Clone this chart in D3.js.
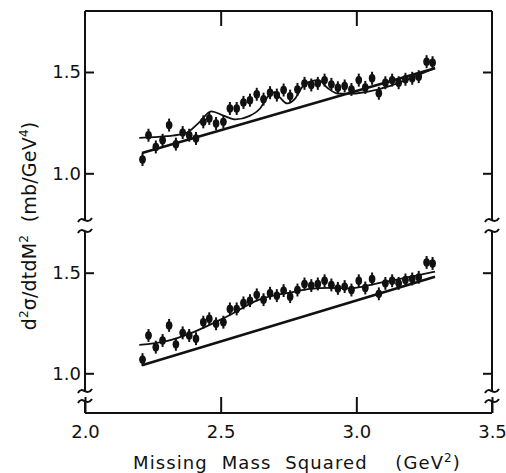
<!DOCTYPE html>
<html>
<meta charset="utf-8">
<style>
  body { margin: 0; background: #fff; }
  text { font-family: "DejaVu Sans", sans-serif; fill: #111; }
</style>
<body>
<script src="https://cdn.jsdelivr.net/npm/d3@7/dist/d3.min.js"></script>
<script>

// missing mass squared of each bin (GeV^2)
var mm2 = [2.212, 2.234, 2.261, 2.286, 2.310, 2.335, 2.360, 2.384, 2.409, 2.436,
           2.458, 2.483, 2.510, 2.534, 2.559, 2.584, 2.608, 2.633, 2.658, 2.682,
           2.707, 2.732, 2.756, 2.783, 2.809, 2.834, 2.858, 2.883, 2.908, 2.932,
           2.957, 2.982, 3.009, 3.033, 3.058, 3.083, 3.107, 3.132, 3.156, 3.181,
           3.206, 3.230, 3.259, 3.281];
// d2sigma/dt dM2 (mb/GeV^4)
var xsec = [1.068, 1.188, 1.130, 1.163, 1.238, 1.144, 1.201, 1.188, 1.172, 1.254,
            1.271, 1.246, 1.254, 1.320, 1.320, 1.350, 1.361, 1.390, 1.366, 1.398,
            1.386, 1.411, 1.381, 1.414, 1.444, 1.436, 1.444, 1.460, 1.439, 1.422,
            1.431, 1.414, 1.460, 1.424, 1.469, 1.395, 1.447, 1.460, 1.447, 1.464,
            1.469, 1.477, 1.551, 1.546];
var xsecErr = 0.032;
var binHalf = 0.011;

// upper panel: background + three resonances
var fitTopX = [2.20, 2.30, 2.37, 2.42, 2.465, 2.51, 2.555, 2.605, 2.645, 2.675, 2.70, 2.72, 2.745, 2.775, 2.80, 2.835, 2.86, 2.895, 2.93, 2.96, 3.29];
var fitTopY = [1.175, 1.183, 1.197, 1.25, 1.306, 1.285, 1.266, 1.282, 1.32, 1.38, 1.40, 1.372, 1.345, 1.37, 1.425, 1.455, 1.46, 1.42, 1.394, 1.392, 1.52];
var bgTopX = [2.21, 3.29];
var bgTopY = [1.10, 1.518];

// lower panel: smooth fit + background
var fitBotX = [2.20, 2.30, 2.40, 2.52, 2.64, 2.77, 2.83, 2.90, 2.975, 3.07, 3.29];
var fitBotY = [1.141, 1.16, 1.205, 1.28, 1.365, 1.405, 1.42, 1.425, 1.422, 1.445, 1.505];
var bgBotX = [2.21, 3.29];
var bgBotY = [1.04, 1.48];

var width = 506, height = 473;
var plotL = 85, plotR = 492, plotT = 11, plotB = 413;

var svg = d3.select("body").append("svg")
  .attr("width", width)
  .attr("height", height);

var x = d3.scaleLinear().domain([2.0, 3.5]).range([plotL, plotR]);
var yTop = d3.scaleLinear().domain([1.0, 1.5]).range([173.3, 72]);
var yBot = d3.scaleLinear().domain([1.0, 1.5]).range([373.3, 272.7]);

function noDomain(g) {
  g.select(".domain").remove();
  g.selectAll(".tick line").attr("stroke", "#111").attr("stroke-width", 2);
  g.selectAll(".tick text").style("font-size", "18px").attr("fill", "#111");
}

[yTop, yBot].forEach(function(y) {
  svg.append("g").attr("transform", "translate(" + plotL + ",0)")
    .call(d3.axisLeft(y).tickValues([1.0, 1.5]).tickSize(-9).tickPadding(4).tickFormat(d3.format(".1f")))
    .call(noDomain);
  svg.append("g").attr("transform", "translate(" + plotR + ",0)")
    .call(d3.axisRight(y).tickValues([1.0, 1.5]).tickSize(-9).tickFormat(""))
    .call(noDomain);
});

svg.append("g").attr("transform", "translate(0," + plotT + ")")
  .call(d3.axisTop(x).tickValues([2.5, 3.0]).tickSize(-15).tickFormat(""))
  .call(noDomain);
svg.append("g").attr("transform", "translate(0," + plotB + ")")
  .call(d3.axisBottom(x).tickValues([2.0, 2.5, 3.0, 3.5]).tickSize(-16).tickPadding(12).tickFormat(d3.format(".1f")))
  .call(noDomain);

// frame with axis breaks
var breaks = [[220, 231], [391, 401]];
var frame = d3.path();
frame.moveTo(plotL, plotT); frame.lineTo(plotR, plotT);
frame.moveTo(plotL, plotB); frame.lineTo(plotR, plotB);
[plotL, plotR].forEach(function(cx) {
  frame.moveTo(cx, plotT); frame.lineTo(cx, breaks[0][0]);
  frame.moveTo(cx, breaks[0][1]); frame.lineTo(cx, breaks[1][0]);
  frame.moveTo(cx, breaks[1][1]); frame.lineTo(cx, plotB);
});
svg.append("path").attr("d", frame.toString())
  .attr("fill", "none").attr("stroke", "#111").attr("stroke-width", 2);

function squiggle(cx, cy) {
  return "M" + (cx - 7) + "," + (cy + 2) +
    " C" + (cx - 3) + "," + (cy - 6) + " " + (cx + 2) + "," + (cy + 6) + " " + (cx + 7) + "," + (cy - 2);
}
[plotL, plotR].forEach(function(cx) {
  breaks.forEach(function(b) {
    svg.append("path").attr("d", squiggle(cx, b[0])).attr("fill", "none").attr("stroke", "#111").attr("stroke-width", 2);
    svg.append("path").attr("d", squiggle(cx, b[1])).attr("fill", "none").attr("stroke", "#111").attr("stroke-width", 2);
  });
});

function drawPanel(y, fitX, fitY, bgX, bgY) {
  var line = d3.line()
    .x(function(d) { return x(d[0]); })
    .y(function(d) { return y(d[1]); });

  svg.append("path")
    .datum(d3.zip(bgX, bgY))
    .attr("d", line)
    .attr("fill", "none").attr("stroke", "#111").attr("stroke-width", 2.6);

  svg.append("path")
    .datum(d3.zip(fitX, fitY))
    .attr("d", line.curve(d3.curveMonotoneX))
    .attr("fill", "none").attr("stroke", "#111").attr("stroke-width", 1.8);

  var pts = svg.append("g").selectAll("g")
    .data(d3.zip(mm2, xsec))
    .enter().append("g");

  pts.append("line")
    .attr("x1", function(d) { return x(d[0]); })
    .attr("x2", function(d) { return x(d[0]); })
    .attr("y1", function(d) { return y(d[1] - xsecErr); })
    .attr("y2", function(d) { return y(d[1] + xsecErr); })
    .attr("stroke", "#111").attr("stroke-width", 2);

  pts.append("line")
    .attr("x1", function(d) { return x(d[0] - binHalf); })
    .attr("x2", function(d) { return x(d[0] + binHalf); })
    .attr("y1", function(d) { return y(d[1]); })
    .attr("y2", function(d) { return y(d[1]); })
    .attr("stroke", "#111").attr("stroke-width", 2);

  pts.append("ellipse")
    .attr("cx", function(d) { return x(d[0]); })
    .attr("cy", function(d) { return y(d[1]); })
    .attr("rx", 3.3)
    .attr("ry", 4.2)
    .attr("fill", "#111");
}

drawPanel(yTop, fitTopX, fitTopY, bgTopX, bgTopY);
drawPanel(yBot, fitBotX, fitBotY, bgBotX, bgBotY);

// axis titles
var xt = svg.append("text")
  .attr("x", 297)
  .attr("y", 469)
  .attr("text-anchor", "middle")
  .style("font-size", "18px")
  .style("letter-spacing", "1.1px")
  .style("word-spacing", "7px")
  .style("white-space", "pre");
xt.append("tspan").text("Missing Mass Squared  (GeV");
xt.append("tspan").attr("dy", -7).style("font-size", "12px").text("2");
xt.append("tspan").attr("dy", 7).text(")");

var yt = svg.append("text")
  .attr("transform", "translate(36,226) rotate(-90)")
  .attr("text-anchor", "middle")
  .style("font-size", "19px")
  .style("letter-spacing", "0.2px")
  .style("white-space", "pre");
yt.append("tspan").text("d");
yt.append("tspan").attr("dy", -8).style("font-size", "12px").text("2");
yt.append("tspan").attr("dy", 8).text("σ/dtdM");
yt.append("tspan").attr("dy", -8).style("font-size", "12px").text("2");
yt.append("tspan").attr("dy", 8).text("  (mb/GeV");
yt.append("tspan").attr("dy", -8).style("font-size", "12px").text("4");
yt.append("tspan").attr("dy", 8).text(")");

</script>
</body>
</html>
